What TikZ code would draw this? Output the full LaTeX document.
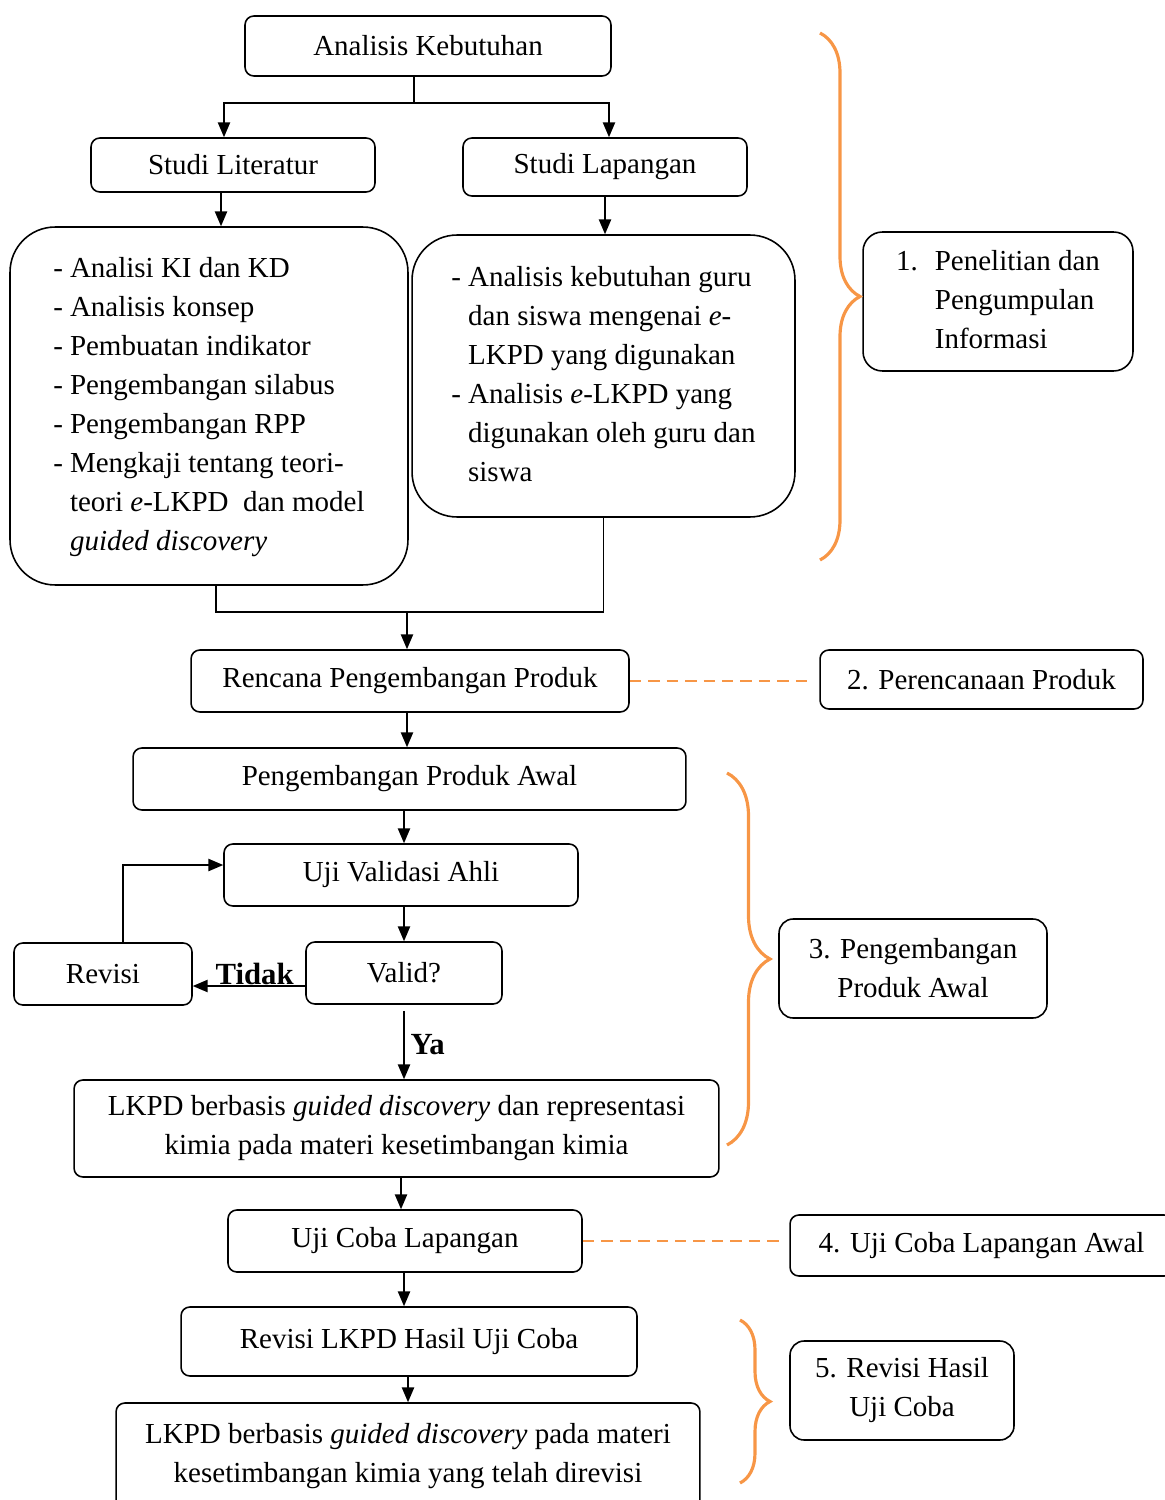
\documentclass[tikz,border=0pt]{standalone}
\usepackage{fontspec}
\setmainfont{Liberation Serif}
\usetikzlibrary{arrows.meta,decorations.pathreplacing}
\definecolor{oranyeKurung}{HTML}{F79646}
\newcommand{\isi}{\fontsize{16.5}{22.2}\selectfont}

\begin{document}
\begin{tikzpicture}[
  x=0.02cm, y=-0.02cm,
  box/.style={rectangle, rounded corners=5pt, draw, line width=0.9pt, align=center, inner sep=0pt, font=\isi},
  bigbox/.style={box, rounded corners=0.9cm},
  tahap/.style={box, rounded corners=8pt},
  arrow/.style={-{Triangle[length=8.5pt,width=7pt]}, line width=0.9pt},
  line/.style={line width=0.9pt},
  dashline/.style={oranyeKurung, line width=1.5pt, dash pattern=on 6.5pt off 4pt},
  kurung/.style={oranyeKurung, line width=1.8pt, decorate, decoration={brace, amplitude=#1}},
  kurung/.default=0.8cm,
  tanda/.style={font=\fontsize{17.5}{20}\selectfont\bfseries}
]
\useasboundingbox (0,0) rectangle (1165,1500);

\node[box, minimum width=7.32cm, minimum height=1.2cm] (ak) at (428,46) {Analisis Kebutuhan};
\node[box, minimum width=5.68cm, minimum height=1.08cm] (sl) at (233,165) {Studi Literatur};
\node[box, minimum width=5.68cm, minimum height=1.16cm] (slap) at (605,167) {Studi Lapangan};
\node[bigbox, minimum width=7.96cm, minimum height=7.16cm] (lit) at (209,406) {%
  \begin{tabular}{@{}l@{\hspace{4pt}}l@{}}
  - & Analisi KI dan KD\\
  - & Analisis konsep\\
  - & Pembuatan indikator\\
  - & Pengembangan silabus\\
  - & Pengembangan RPP\\
  - & Mengkaji tentang teori-\\
    & teori \textit{e}-LKPD\ \ dan model\\
    & \textit{guided discovery}
  \end{tabular}};
\node[bigbox, minimum width=7.66cm, minimum height=5.64cm] (lap) at (603.5,376) {%
  \begin{tabular}{@{}l@{\hspace{4pt}}l@{}}
  - & Analisis kebutuhan guru\\
    & dan siswa mengenai \textit{e}-\\
    & LKPD yang digunakan\\
  - & Analisis \textit{e}-LKPD yang\\
    & digunakan oleh guru dan\\
    & siswa
  \end{tabular}};
\node[box, minimum width=8.76cm, minimum height=1.24cm] (rpp) at (410,681) {Rencana Pengembangan Produk};
\node[box, minimum width=11.06cm, minimum height=1.24cm] (ppa) at (409.5,779) {Pengembangan Produk Awal};
\node[box, minimum width=7.08cm, minimum height=1.24cm] (uva) at (401,875) {Uji Validasi Ahli};
\node[box, minimum width=3.92cm, minimum height=1.24cm] (val) at (404,973) {Valid?};
\node[box, minimum width=3.56cm, minimum height=1.24cm] (rev) at (103,974) {Revisi};
\node[box, minimum width=12.9cm, minimum height=1.94cm] (lk1) at (396.5,1128.5) {LKPD berbasis \textit{guided discovery} dan representasi\\ kimia pada materi kesetimbangan kimia};
\node[box, minimum width=7.08cm, minimum height=1.24cm] (ucl) at (405,1241) {Uji Coba Lapangan};
\node[box, minimum width=9.12cm, minimum height=1.38cm] (rlk) at (409,1341.5) {Revisi LKPD Hasil Uji Coba};
\node[box, minimum width=11.68cm, minimum height=2.14cm] (lk2) at (408,1456.5) {LKPD berbasis \textit{guided discovery} pada materi\\ kesetimbangan kimia yang telah direvisi};

\node[tahap, rounded corners=11pt, minimum width=5.4cm, minimum height=2.78cm] (p1) at (998,301.5) {%
  \begin{tabular}{@{}l@{\hspace{9.7pt}}l@{}}
  1. & Penelitian dan\\
     & Pengumpulan\\
     & Informasi
  \end{tabular}};
\node[box, minimum width=6.46cm, minimum height=1.18cm] (p2) at (981.5,679.5) {2. Perencanaan Produk};
\node[tahap, minimum width=5.36cm, minimum height=1.98cm] (p3) at (913,968.5) {3. Pengembangan\\ Produk Awal};
\node[box, minimum width=7.66cm, minimum height=1.22cm] (p4) at (981.5,1245.5) {4. Uji Coba Lapangan Awal};
\node[tahap, minimum width=4.48cm, minimum height=1.98cm] (p5) at (902,1390.5) {5. Revisi Hasil\\ Uji Coba};

\draw[line] ([xshift=-0.28cm]ak.south) -- ++(0,26) coordinate (cabang);
\draw[arrow] (cabang) -| ([xshift=-0.18cm]sl.north);
\draw[arrow] (cabang) -| ([xshift=0.08cm]slap.north);
\draw[arrow] ([xshift=-0.24cm]sl.south) -- ([xshift=-0.24cm]sl.south |- lit.north);
\draw[arrow] (slap) -- (slap |- lap.north);
\coordinate (gabung) at (407,612);
\draw[line] ([xshift=0.14cm]lit.south) |- (lap.south |- gabung) -- (lap.south);
\draw[arrow] (gabung) -- (gabung |- rpp.north);
\draw[arrow] (rpp.south -| gabung) -- (ppa.north -| gabung);
\draw[arrow] (ppa.south -| val) -- (uva.north -| val);
\draw[arrow] (uva.south -| val) -- (val);
\draw[arrow] ([yshift=-0.12cm]val.south) -- (val |- lk1.north) node[midway, right, tanda] {Ya};
\draw[arrow] ([yshift=-0.26cm]val.west) -- ([yshift=-0.26cm]val.west -| rev.east) node[pos=0.45, above, inner sep=0pt, tanda] {Tidak};
\draw[arrow] ([xshift=0.4cm]rev.north) |- ([yshift=0.2cm]uva.west);
\draw[arrow] (lk1.south -| uva) -- (ucl.north -| uva);
\draw[arrow] (ucl.south -| val) -- (rlk.north -| val);
\draw[arrow] (rlk.south -| lk2) -- (lk2.north);

\draw[dashline] (rpp.east) -- ([xshift=-0.24cm]p2.west |- rpp.east);
\draw[dashline] (ucl.east) -- ([xshift=-0.2cm]p4.west |- ucl.east);

\draw[kurung=0.8cm] (820,33) -- (820,560);
\draw[kurung=0.86cm] (727,773) -- (727,1145);
\draw[kurung=0.6cm] (740,1320) -- (740,1483);
\end{tikzpicture}
\end{document}
